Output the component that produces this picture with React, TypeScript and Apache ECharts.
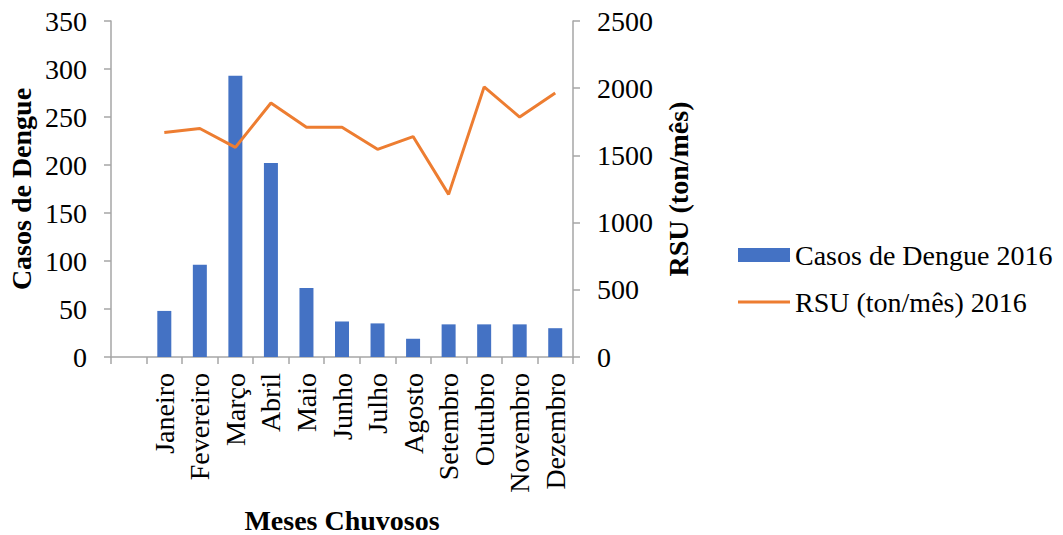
import React, { useEffect, useRef } from "react";
import * as echarts from "echarts";

// Months on the category axis (the first slot is left empty)
const months = [
  "",
  "Janeiro",
  "Fevereiro",
  "Março",
  "Abril",
  "Maio",
  "Junho",
  "Julho",
  "Agosto",
  "Setembro",
  "Outubro",
  "Novembro",
  "Dezembro",
];

// Dengue cases per month, 2016
const dengueCases: (number | string)[] = ["-", 48, 96, 293, 202, 72, 37, 35, 19, 34, 34, 34, 30];

// Municipal solid waste per month (ton/mês), 2016
const rsuTons: (number | string)[] = ["-", 1670, 1700, 1560, 1890, 1710, 1710, 1545, 1640, 1210, 2010, 1785, 1965];

const FONT = "Liberation Serif";
const AXIS_GRAY = "#A6A6A6";
const BAR_BLUE = "#4472C4";
const LINE_ORANGE = "#ED7D31";

const titleStyle = { fontFamily: FONT, fontSize: 28, fontWeight: "bold", color: "#000" };
const labelStyle = { fontFamily: FONT, fontSize: 28, color: "#000" };

export default function App() {
  const ref = useRef<HTMLDivElement>(null);

  useEffect(() => {
    document.body.style.margin = "0";
    if (!ref.current) return;
    const chart = echarts.init(ref.current, undefined, { renderer: "svg" });
    chart.setOption({
      animation: false,
      backgroundColor: "#ffffff",
      textStyle: { fontFamily: FONT, color: "#000" },
      grid: {
        left: 111,
        right: 490,
        top: 21,
        bottom: 178,
        containLabel: false,
        outerBoundsMode: "none",
      },
      legend: [
        {
          orient: "vertical",
          left: 738,
          top: 241,
          padding: 0,
          icon: "rect",
          itemWidth: 52,
          itemHeight: 14,
          textStyle: { ...labelStyle },
          data: ["Casos de Dengue 2016"],
        },
        {
          orient: "vertical",
          left: 738,
          top: 288,
          padding: 0,
          icon: "rect",
          itemWidth: 52,
          itemHeight: 3,
          textStyle: { ...labelStyle },
          data: ["RSU (ton/mês) 2016"],
        },
      ],
      xAxis: {
        type: "category",
        data: months,
        boundaryGap: true,
        name: "Meses Chuvosos",
        nameLocation: "middle",
        nameGap: 149,
        nameTextStyle: { ...titleStyle },
        axisLine: { lineStyle: { color: AXIS_GRAY, width: 1.5 } },
        axisTick: { show: true, length: 7, interval: 0, lineStyle: { color: AXIS_GRAY, width: 1.5 } },
        axisLabel: { interval: 0, rotate: 90, margin: 16, ...labelStyle },
      },
      yAxis: [
        {
          type: "value",
          min: 0,
          max: 350,
          interval: 50,
          name: "Casos de Dengue",
          nameLocation: "middle",
          nameGap: 76,
          nameTextStyle: { ...titleStyle },
          splitLine: { show: false },
          axisLine: { show: true, lineStyle: { color: AXIS_GRAY, width: 1.5 } },
          axisTick: { show: true, length: 7, lineStyle: { color: AXIS_GRAY, width: 1.5 } },
          axisLabel: { margin: 24, ...labelStyle },
        },
        {
          type: "value",
          min: 0,
          max: 2500,
          interval: 500,
          position: "right",
          name: "RSU (ton/mês)",
          nameLocation: "middle",
          nameGap: 91,
          nameTextStyle: { ...titleStyle },
          splitLine: { show: false },
          axisLine: { show: true, lineStyle: { color: AXIS_GRAY, width: 1.5 } },
          axisTick: { show: true, length: 7, lineStyle: { color: AXIS_GRAY, width: 1.5 } },
          axisLabel: { margin: 24, formatter: (v: number) => String(v), ...labelStyle },
        },
      ],
      series: [
        {
          name: "Casos de Dengue 2016",
          type: "bar",
          yAxisIndex: 0,
          data: dengueCases,
          barWidth: 14,
          itemStyle: { color: BAR_BLUE },
        },
        {
          name: "RSU (ton/mês) 2016",
          type: "line",
          yAxisIndex: 1,
          data: rsuTons,
          symbol: "none",
          lineStyle: { color: LINE_ORANGE, width: 3 },
          itemStyle: { color: LINE_ORANGE },
        },
      ],
    });
    return () => chart.dispose();
  }, []);

  return <div ref={ref} style={{ width: 1063, height: 535 }} />;
}
